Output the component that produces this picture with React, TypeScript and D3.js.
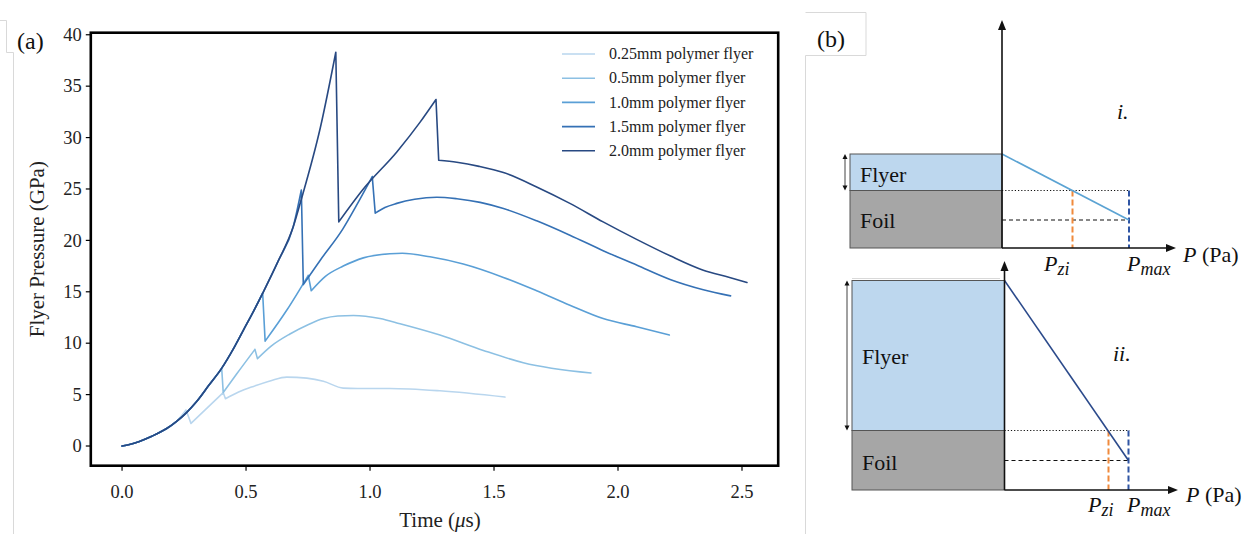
import React from "react";
import * as d3 from "d3";

type Pt = [number, number];

// ---- data (time in us, pressure in GPa) ----
const seriesNames = [
  "0.25mm polymer flyer",
  "0.5mm polymer flyer",
  "1.0mm polymer flyer",
  "1.5mm polymer flyer",
  "2.0mm polymer flyer",
];
const seriesColors = ["#b9d6ee", "#8cc0e3", "#5a9fd6", "#3571b5", "#284982"];

const flyer025: Pt[] = [
  [0, 0], [0.03, 0.15], [0.07, 0.45], [0.12, 0.95], [0.18, 1.7], [0.22, 2.4],
  [0.258, 3.5], [0.278, 2.2], [0.408, 5.2], [0.417, 4.6],
  [0.47, 5.25], [0.53, 5.8], [0.6, 6.35], [0.664, 6.7], [0.745, 6.6],
  [0.812, 6.3], [0.892, 5.63], [0.95, 5.6], [1.08, 5.6], [1.282, 5.37],
  [1.544, 4.76],
];

const flyer05: Pt[] = [
  [0, 0], [0.03, 0.15], [0.07, 0.45], [0.12, 0.95], [0.18, 1.7], [0.22, 2.4],
  [0.26, 3.25], [0.3, 4.3], [0.35, 5.9], [0.402, 7.5], [0.408, 5.2],
  [0.462, 7.0], [0.536, 9.4], [0.546, 8.5], [0.6, 9.7], [0.677, 10.9],
  [0.75, 11.8], [0.812, 12.4], [0.87, 12.65], [0.933, 12.7], [1.04, 12.4],
  [1.121, 11.9], [1.282, 10.8], [1.457, 9.3], [1.618, 8.1], [1.891, 7.1],
];

const flyer10: Pt[] = [
  [0, 0], [0.03, 0.15], [0.07, 0.45], [0.12, 0.95], [0.18, 1.7], [0.22, 2.4],
  [0.26, 3.25], [0.3, 4.3], [0.35, 5.9], [0.4, 7.5], [0.45, 9.5], [0.49, 11.3],
  [0.53, 13.1], [0.567, 14.9], [0.577, 10.2], [0.664, 13.2], [0.751, 16.6],
  [0.763, 15.1], [0.82, 16.5], [0.892, 17.5], [0.973, 18.3], [1.08, 18.7],
  [1.13, 18.75], [1.242, 18.4], [1.376, 17.7], [1.538, 16.4], [1.672, 15.1],
  [1.806, 13.7], [1.94, 12.4], [2.075, 11.6], [2.207, 10.8],
];

const flyer15: Pt[] = [
  [0, 0], [0.03, 0.15], [0.07, 0.45], [0.12, 0.95], [0.18, 1.7], [0.22, 2.4],
  [0.26, 3.25], [0.3, 4.3], [0.35, 5.9], [0.4, 7.5], [0.45, 9.5], [0.49, 11.3],
  [0.53, 13.1], [0.57, 15.0], [0.63, 18.0], [0.69, 21.3], [0.723, 24.9],
  [0.731, 15.7], [0.8, 18.1], [0.89, 21.1], [0.95, 23.6], [1.009, 26.2],
  [1.021, 22.65], [1.06, 23.2], [1.108, 23.6], [1.18, 24.0], [1.269, 24.2],
  [1.35, 24.05], [1.444, 23.7], [1.538, 23.1], [1.672, 21.9], [1.806, 20.5],
  [1.94, 19.0], [2.075, 17.6], [2.21, 16.2], [2.344, 15.2], [2.454, 14.6],
];

const flyer20: Pt[] = [
  [0, 0], [0.03, 0.15], [0.07, 0.45], [0.12, 0.95], [0.18, 1.7], [0.22, 2.4],
  [0.26, 3.25], [0.3, 4.3], [0.35, 5.9], [0.4, 7.5], [0.45, 9.5], [0.49, 11.3],
  [0.53, 13.1], [0.57, 15.0], [0.63, 18.0], [0.69, 21.3], [0.723, 24.0],
  [0.8, 31.0], [0.862, 38.3], [0.874, 21.8], [0.973, 25.0], [1.108, 28.6],
  [1.202, 31.5], [1.266, 33.7], [1.277, 27.8], [1.35, 27.6], [1.44, 27.2],
  [1.538, 26.6], [1.672, 25.2], [1.806, 23.6], [1.94, 21.8], [2.075, 20.1],
  [2.21, 18.5], [2.344, 17.1], [2.45, 16.4], [2.52, 15.9],
];

const allSeries = [flyer025, flyer05, flyer10, flyer15, flyer20];

const xTicks = [0, 0.5, 1.0, 1.5, 2.0, 2.5];
const yTicks = [0, 5, 10, 15, 20, 25, 30, 35, 40];

const serif = "'Liberation Serif', 'Times New Roman', serif";

// split a series at its sudden pressure drops so the smooth parts can be curved
const splitAtDrops = (pts: Pt[]) => {
  const smooth: Pt[][] = [];
  const drops: Pt[][] = [];
  let cur: Pt[] = [pts[0]];
  for (let i = 1; i < pts.length; i++) {
    const a = pts[i - 1];
    const b = pts[i];
    if (a[1] - b[1] > 0.5 && b[0] - a[0] < 0.025) {
      smooth.push(cur);
      drops.push([a, b]);
      cur = [b];
    } else {
      cur.push(b);
    }
  }
  smooth.push(cur);
  return { smooth, drops };
};

// sub-diagram of panel (b): rectangles + pressure line
type Schematic = {
  ox: number;
  axisTop: number;
  axisBottom: number;
  axisRight: number;
  rectLeft: number;
  flyerTop: number;
  interfaceY: number;
  pmaxX: number;
  pmaxY: number;
  pziX: number;
  lineColor: string;
  tag: string;
  tagX: number;
  tagY: number;
  labelY: number;
  pziLabelX: number;
  pmaxLabelX: number;
  paLabelX: number;
  paLabelY: number;
  flyerTextY: number;
  foilTextY: number;
};

const schemI: Schematic = {
  ox: 1002, axisTop: 20, axisBottom: 248, axisRight: 1176, rectLeft: 850,
  flyerTop: 154, interfaceY: 190.5, pmaxX: 1129, pmaxY: 220, pziX: 1072.5,
  lineColor: "#5ba3d3", tag: "i.", tagX: 1117, tagY: 119, labelY: 271,
  pziLabelX: 1044, pmaxLabelX: 1127, paLabelX: 1183, paLabelY: 262,
  flyerTextY: 182, foilTextY: 228,
};
const schemII: Schematic = {
  ox: 1004.5, axisTop: 261, axisBottom: 490, axisRight: 1178, rectLeft: 852,
  flyerTop: 280.5, interfaceY: 430.5, pmaxX: 1128.5, pmaxY: 460.5, pziX: 1108.5,
  lineColor: "#2b4a8b", tag: "ii.", tagX: 1113, tagY: 361, labelY: 512,
  pziLabelX: 1088, pmaxLabelX: 1127, paLabelX: 1186, paLabelY: 502,
  flyerTextY: 364, foilTextY: 470,
};

const PLabel = ({ x, y, sub }: { x: number; y: number; sub: string }) => (
  <text x={x} y={y} fontFamily={serif} fontSize={22} fill="#111">
    <tspan fontStyle="italic">P</tspan>
    <tspan fontStyle="italic" fontSize={18} dy={4}>{sub}</tspan>
  </text>
);

const SchematicView = ({ s }: { s: Schematic }) => (
  <g>
    <rect x={s.rectLeft} y={s.flyerTop} width={s.ox - s.rectLeft} height={s.interfaceY - s.flyerTop}
      fill="#bdd7ee" stroke="#555" strokeWidth={1} />
    <rect x={s.rectLeft} y={s.interfaceY} width={s.ox - s.rectLeft} height={s.axisBottom - s.interfaceY}
      fill="#a6a6a6" stroke="#555" strokeWidth={1} />
    <text x={s.rectLeft + 10} y={s.flyerTextY} fontFamily={serif} fontSize={22} fill="#111">Flyer</text>
    <text x={s.rectLeft + 10} y={s.foilTextY} fontFamily={serif} fontSize={22} fill="#111">Foil</text>
    {/* thickness double arrow */}
    <line x1={s.rectLeft - 5} x2={s.rectLeft - 5} y1={s.flyerTop + 4} y2={s.interfaceY - 4} stroke="#111" strokeWidth={0.8} />
    <path d={`M${s.rectLeft - 7.5},${s.flyerTop + 5}L${s.rectLeft - 5},${s.flyerTop}L${s.rectLeft - 2.5},${s.flyerTop + 5}Z`} fill="#111" />
    <path d={`M${s.rectLeft - 7.5},${s.interfaceY - 5}L${s.rectLeft - 5},${s.interfaceY}L${s.rectLeft - 2.5},${s.interfaceY - 5}Z`} fill="#111" />
    {/* reference lines */}
    <line x1={s.ox} x2={s.pmaxX + 1} y1={s.interfaceY} y2={s.interfaceY} stroke="#111" strokeWidth={1.2} strokeDasharray="1.2 2" />
    <line x1={s.ox} x2={s.pmaxX} y1={s.pmaxY} y2={s.pmaxY} stroke="#111" strokeWidth={1.2} strokeDasharray="4 3" />
    <line x1={s.pziX} x2={s.pziX} y1={s.interfaceY} y2={s.axisBottom} stroke="#f08a3c" strokeWidth={2} strokeDasharray="6 3" />
    <line x1={s.pmaxX} x2={s.pmaxX} y1={s.interfaceY} y2={s.axisBottom} stroke="#2f55a4" strokeWidth={2} strokeDasharray="6 3" />
    <line x1={s.ox} y1={s.flyerTop} x2={s.pmaxX} y2={s.pmaxY} stroke={s.lineColor} strokeWidth={1.6} />
    {/* axes */}
    <line x1={s.ox} x2={s.ox} y1={s.axisBottom} y2={s.axisTop + 8} stroke="#111" strokeWidth={1.6} />
    <path d={`M${s.ox - 4},${s.axisTop + 10}L${s.ox},${s.axisTop}L${s.ox + 4},${s.axisTop + 10}Z`} fill="#111" />
    <line x1={s.ox} x2={s.axisRight - 8} y1={s.axisBottom} y2={s.axisBottom} stroke="#111" strokeWidth={1.6} />
    <path d={`M${s.axisRight - 10},${s.axisBottom - 4}L${s.axisRight},${s.axisBottom}L${s.axisRight - 10},${s.axisBottom + 4}Z`} fill="#111" />
    <text x={s.paLabelX} y={s.paLabelY} fontFamily={serif} fontSize={22} fill="#111">
      <tspan fontStyle="italic">P</tspan> (Pa)
    </text>
    <PLabel x={s.pziLabelX} y={s.labelY} sub="zi" />
    <PLabel x={s.pmaxLabelX} y={s.labelY} sub="max" />
    <text x={s.tagX} y={s.tagY} fontFamily={serif} fontSize={22} fontStyle="italic" fill="#111">{s.tag}</text>
  </g>
);

export default function App() {
  const margin = { left: 90.8, right: 778.2, top: 32.7, bottom: 465.7 };

  const x = d3.scaleLinear().domain([-0.126, 2.646]).range([margin.left, margin.right]);
  const y = d3.scaleLinear().domain([-1.915, 40.2]).range([margin.bottom, margin.top]);

  const smoothLine = d3
    .line<Pt>()
    .x((d) => x(d[0]))
    .y((d) => y(d[1]))
    .curve(d3.curveMonotoneX);
  const straight = d3
    .line<Pt>()
    .x((d) => x(d[0]))
    .y((d) => y(d[1]));

  const seriesPath = (pts: Pt[]) => {
    const { smooth, drops } = splitAtDrops(pts);
    return [...smooth.map((s) => smoothLine(s) ?? ""), ...drops.map((s) => straight(s) ?? "")].join("");
  };

  const legendX = 562;
  const legendY0 = 54;
  const legendStep = 24.2;

  return (
    <svg width={1252} height={534} style={{ position: "absolute", left: 0, top: 0, background: "#fff" }}>
      <rect x={0} y={0} width={1252} height={534} fill="#fff" />

      {/* faint frames from the pasted images */}
      <g stroke="#d9d9d9" strokeWidth={1} fill="none">
        <path d="M0,20.5H6.5V52.5H13.5V534" />
        <path d="M805.5,534V55.5H866V12.5H805.5" />
        <path d="M852,278.5H1000" />
      </g>

      {/* ---------- panel (a) ---------- */}
      <text x={17} y={49} fontFamily={serif} fontSize={24} fill="#111">(a)</text>

      {allSeries.map((s, i) => (
        <path key={i} d={seriesPath(s)} fill="none" stroke={seriesColors[i]} strokeWidth={1.6}
          strokeLinejoin="round" strokeLinecap="round" />
      ))}

      <rect x={margin.left} y={margin.top} width={margin.right - margin.left} height={margin.bottom - margin.top}
        fill="none" stroke="#000" strokeWidth={2.6} />

      {yTicks.map((t) => (
        <g key={t} transform={`translate(0,${y(t)})`}>
          <line x1={margin.left - 5} x2={margin.left} stroke="#000" strokeWidth={1.2} />
          <text x={margin.left - 9} dy="0.34em" textAnchor="end" fontFamily={serif} fontSize={18.5} fill="#222">
            {t}
          </text>
        </g>
      ))}
      {xTicks.map((t) => (
        <g key={t} transform={`translate(${x(t)},0)`}>
          <line y1={margin.bottom} y2={margin.bottom + 5} stroke="#000" strokeWidth={1.2} />
          <text y={margin.bottom + 32} textAnchor="middle" fontFamily={serif} fontSize={18.5} fill="#222">
            {d3.format(".1f")(t)}
          </text>
        </g>
      ))}

      <text x={440} y={527} textAnchor="middle" fontFamily={serif} fontSize={21} fill="#222">
        Time (<tspan fontStyle="italic">μ</tspan>s)
      </text>
      <text transform={`translate(44,${(margin.top + margin.bottom) / 2}) rotate(-90)`} textAnchor="middle"
        fontFamily={serif} fontSize={21} fill="#222">
        Flyer Pressure (GPa)
      </text>

      {seriesNames.map((name, i) => (
        <g key={name} transform={`translate(${legendX},${legendY0 + i * legendStep})`}>
          <line x1={0} x2={33} stroke={seriesColors[i]} strokeWidth={1.6} />
          <text x={47} dy="0.33em" fontFamily={serif} fontSize={16} fill="#222">{name}</text>
        </g>
      ))}

      {/* ---------- panel (b) ---------- */}
      <text x={817} y={47} fontFamily={serif} fontSize={24} fill="#111">(b)</text>
      <SchematicView s={schemI} />
      <SchematicView s={schemII} />
    </svg>
  );
}
